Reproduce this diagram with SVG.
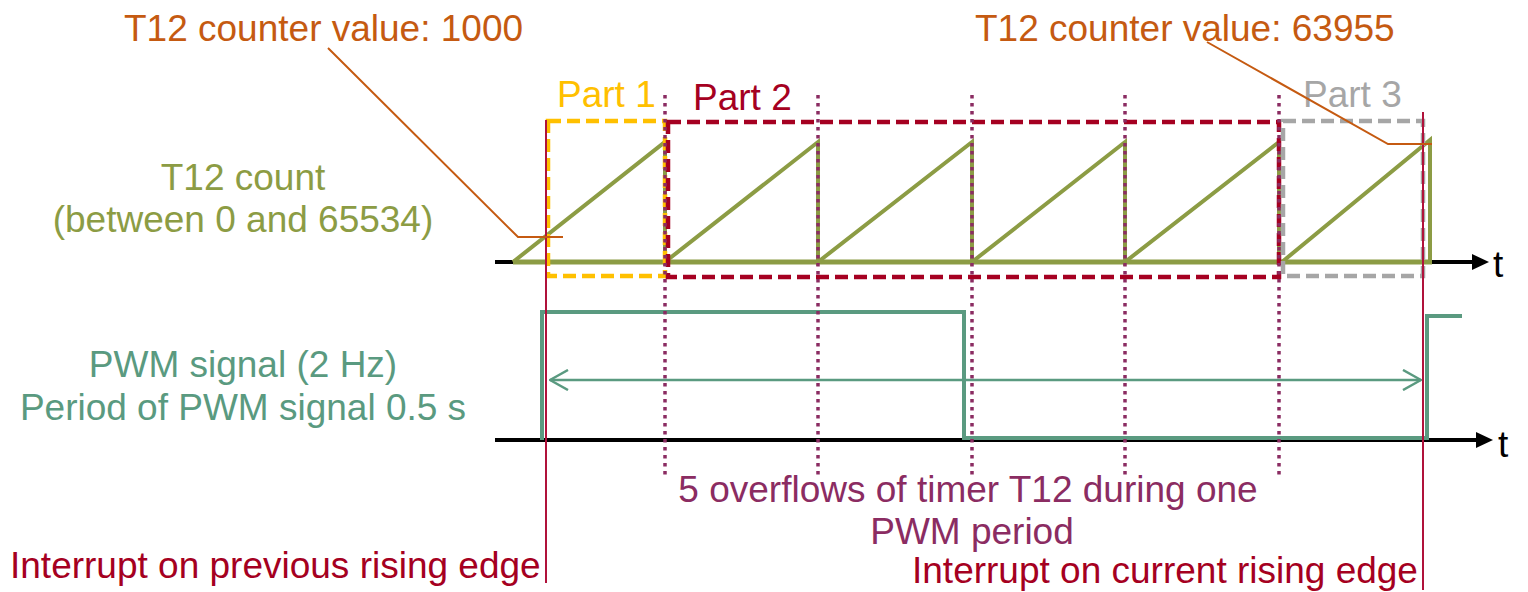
<svg xmlns="http://www.w3.org/2000/svg" width="1528" height="592" viewBox="0 0 1528 592">
<style>
text{font-family:"Liberation Sans",Arial,sans-serif;font-size:37px}
.or{fill:#C55A11}.ol{fill:#8C9C44}.te{fill:#5A9A80}.pu{fill:#8B2C62}.cr{fill:#A50021}
.dot{stroke:#8B2C62;stroke-width:3.5;stroke-dasharray:3.5 4.5;fill:none}
.red{stroke:#B0123B;stroke-width:2;fill:none}
.box{fill:none;stroke-width:4.5;stroke-dasharray:13 6}
</style>
<defs>
<marker id="oh" viewBox="0 0 20 22" refX="19" refY="11" markerWidth="20" markerHeight="22" markerUnits="userSpaceOnUse" orient="auto-start-reverse">
<path d="M1,1 L19,11 L1,21" fill="none" stroke="#5A9A80" stroke-width="2.5"/>
</marker>
</defs>
<g id="axes">
<line x1="495" y1="262" x2="1474" y2="262" stroke="#000" stroke-width="4"/>
<polygon points="1472,254 1489,262 1472,270" fill="#000"/>
<text x="1493" y="277">t</text>
<line x1="495" y1="440" x2="1478" y2="440" stroke="#000" stroke-width="4"/>
<polygon points="1476,432 1493,440 1476,448" fill="#000"/>
<text x="1498" y="457">t</text>
</g>
<g id="t12-count">
<line x1="513" y1="262" x2="1432" y2="262" stroke="#8C9C44" stroke-width="5"/>
<polyline points="513,262 665,142 665,262 818,142 818,262 972,142 972,262 1125,142 1125,262 1279,142 1279,262 1282,262 1430,140 1430,262" fill="none" stroke="#8C9C44" stroke-width="4"/>
<text class="ol" x="243" y="190" text-anchor="middle">T12 count</text>
<text class="ol" x="243" y="232" text-anchor="middle">(between 0 and 65534)</text>
</g>
<g id="pwm">
<polyline points="542,440 542,312 964,312 964,438 1427,438 1427,316 1462,316" fill="none" stroke="#5A9A80" stroke-width="4"/>
<text class="te" x="243" y="377" text-anchor="middle">PWM signal (2 Hz)</text>
<text class="te" x="243" y="420" text-anchor="middle">Period of PWM signal 0.5 s</text>
</g>
<g id="parts">
<rect x="548" y="121" width="117" height="155" class="box" stroke="#FFC000"/>
<text x="557" y="107" fill="#FFC000" font-size="36">Part 1</text>
<rect x="668" y="122" width="611" height="155" class="box" stroke="#A50021"/>
<text class="cr" x="693" y="110" font-size="36">Part 2</text>
<rect x="1283" y="121" width="140" height="155" class="box" stroke="#A6A6A6"/>
<text x="1303" y="107" fill="#A6A6A6" font-size="36">Part 3</text>
</g>
<g id="connectors">
<line class="dot" x1="665" y1="95" x2="665" y2="477"/>
<line class="dot" x1="818" y1="95" x2="818" y2="477"/>
<line class="dot" x1="972" y1="95" x2="972" y2="477"/>
<line class="dot" x1="1125" y1="95" x2="1125" y2="477"/>
<line class="dot" x1="1279" y1="95" x2="1279" y2="477"/>
<line class="red" x1="546" y1="120" x2="546" y2="583"/>
<line class="red" x1="1423" y1="112" x2="1423" y2="590"/>
<line x1="550" y1="380" x2="1421" y2="380" stroke="#5A9A80" stroke-width="2.5" marker-start="url(#oh)" marker-end="url(#oh)"/>
<polyline points="328,48 518,237 563,237" fill="none" stroke="#C55A11" stroke-width="2"/>
<polyline points="1207,42 1388,144 1432,144" fill="none" stroke="#C55A11" stroke-width="2"/>
</g>
<g id="labels">
<text class="or" x="124" y="41">T12 counter value: 1000</text>
<text class="or" x="975" y="41">T12 counter value: 63955</text>
<text class="pu" x="968" y="502" text-anchor="middle">5 overflows of timer T12 during one</text>
<text class="pu" x="972" y="544" text-anchor="middle" font-size="36">PWM period</text>
<text class="cr" x="912" y="583" font-size="36">Interrupt on current rising edge</text>
<text class="cr" x="10" y="578">Interrupt on previous rising edge</text>
</g>
</svg>
